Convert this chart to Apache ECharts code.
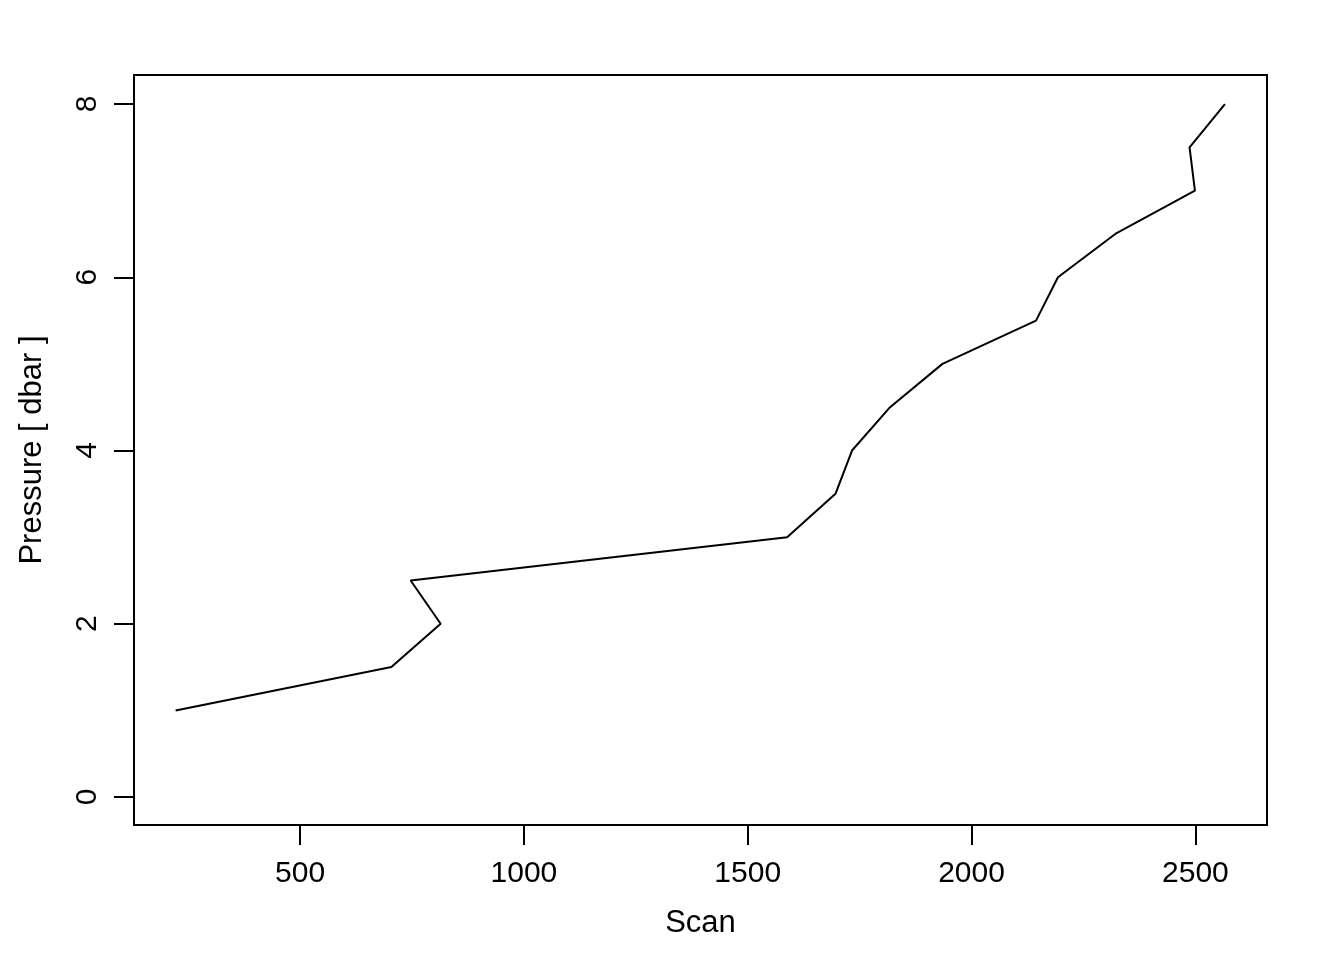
<!DOCTYPE html>
<html>
<head>
<meta charset="utf-8">
<script src="https://cdn.jsdelivr.net/npm/echarts@6/dist/echarts.min.js"></script>
<style>
  html, body { margin: 0; padding: 0; background: #fff; }
  #chart { width: 1344px; height: 960px; }
</style>
</head>
<body>
<div id="chart"></div>
<script>
const scan = [222, 704, 814, 747, 1588, 1696, 1733, 1818, 1935, 2144, 2193, 2321, 2499, 2487, 2566];
const pressure = [1.0, 1.5, 2.0, 2.5, 3.0, 3.5, 4.0, 4.5, 5.0, 5.5, 6.0, 6.5, 7.0, 7.5, 8.0];
const xTicks = [500, 1000, 1500, 2000, 2500];
const yTicks = [0, 2, 4, 6, 8];
const xLimits = [129, 2660];
const yLimits = [-0.323, 8.335];

const chart = echarts.init(document.getElementById('chart'), null, { renderer: 'canvas' });
const font = 'Liberation Sans, Arial, Helvetica, sans-serif';
const points = scan.map((s, i) => [s, pressure[i]]);

chart.setOption({
  backgroundColor: '#ffffff',
  animation: false,
  grid: {
    left: 134, right: 77, top: 75, bottom: 135,
    show: true, borderColor: '#000', borderWidth: 2, backgroundColor: 'transparent'
  },
  xAxis: {
    type: 'value',
    min: xLimits[0], max: xLimits[1],
    position: 'bottom',
    name: 'Scan', nameLocation: 'middle', nameGap: 83,
    nameTextStyle: { color: '#000', fontSize: 31, fontFamily: font },
    axisLine: { show: false, onZero: false },
    splitLine: { show: false },
    axisTick: { show: true, inside: false, length: 20, customValues: xTicks,
                lineStyle: { color: '#000', width: 2 } },
    axisLabel: { customValues: xTicks, margin: 34, color: '#000', fontSize: 30, fontFamily: font,
                 formatter: v => String(v) }
  },
  yAxis: {
    type: 'value',
    min: yLimits[0], max: yLimits[1],
    position: 'left',
    name: 'Pressure [ dbar ]', nameLocation: 'middle', nameGap: 86,
    nameTextStyle: { color: '#000', fontSize: 31, fontFamily: font },
    axisLine: { show: false, onZero: false },
    splitLine: { show: false },
    axisTick: { show: true, inside: false, length: 20, customValues: yTicks,
                lineStyle: { color: '#000', width: 2 } },
    axisLabel: { customValues: yTicks, rotate: 90, margin: 31, color: '#000', fontSize: 30, fontFamily: font,
                 formatter: v => String(v) }
  },
  series: [{
    type: 'line',
    data: points,
    showSymbol: false,
    symbol: 'none',
    lineStyle: { color: '#000', width: 2 },
    clip: false
  }]
});
</script>
</body>
</html>
